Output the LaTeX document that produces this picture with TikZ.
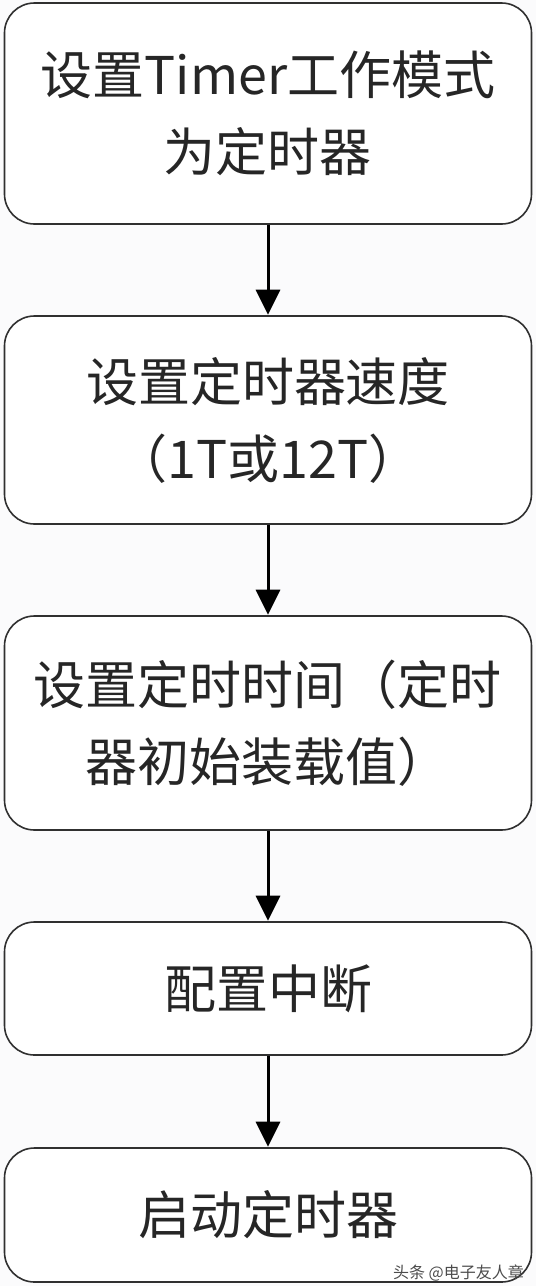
\documentclass[tikz,border=0pt]{standalone}
\usepackage{fontspec}
\setmainfont{Noto Sans CJK SC}
\usetikzlibrary{arrows.meta}
\definecolor{boxline}{HTML}{303030}
\definecolor{txt}{HTML}{262626}
\definecolor{bg}{HTML}{FBFBFC}
\tikzset{
  stepbox/.style={draw=boxline, line width=1.6pt, rounded corners=30pt, fill=white,
    minimum width=527pt, align=center, text=txt, inner sep=0pt,
    font=\fontsize{52pt}{77pt}\selectfont},
  flow/.style={line width=3pt, draw=black, -{Triangle[width=24pt,length=25pt]}, shorten >=0.5pt}
}
\begin{document}
\begin{tikzpicture}[x=1pt,y=-1pt]
\fill[bg] (0,0) rectangle (536,1286);
\useasboundingbox (0,0) rectangle (536,1286);
\node[stepbox, minimum height=221pt] (b1) at (268,113.5) {设置Timer工作模式\\为定时器};
\node[stepbox, minimum height=208pt] (b2) at (268,420) {设置定时器速度\\（1T或12T）};
\node[stepbox, minimum height=214pt] (b3) at (268,723) {设置定时时间（定时\\器初始装载值）};
\node[stepbox, minimum height=133pt] (b4) at (268,988.5) {配置中断};
\node[stepbox, minimum height=134pt] (b5) at (268,1215) {启动定时器};
\draw[flow] (b1.south) -- (b2.north);
\draw[flow] (b2.south) -- (b3.north);
\draw[flow] (b3.south) -- (b4.north);
\draw[flow] (b4.south) -- (b5.north);
\node[anchor=east, text=black!70, font=\fontsize{16pt}{16pt}\selectfont, inner sep=0pt] (wm) at (524,1273) {头条 @电子友人章};
\end{tikzpicture}
\end{document}
